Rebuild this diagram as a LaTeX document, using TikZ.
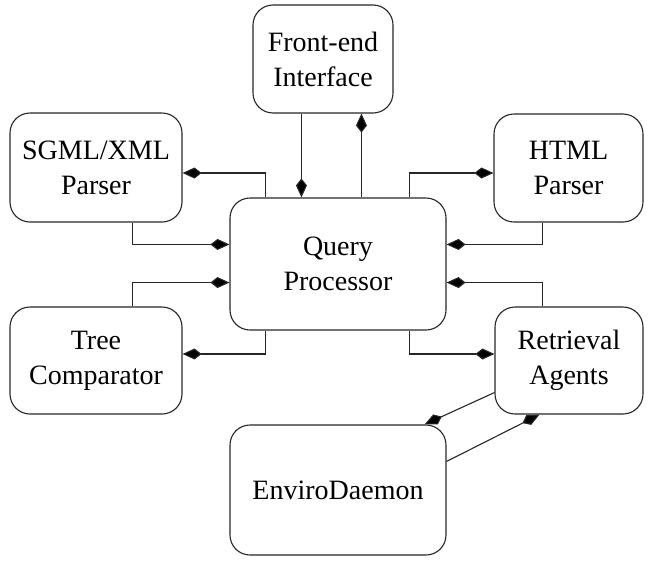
\documentclass[tikz,border=0pt]{standalone}
\usepackage{fontspec}
\setmainfont{Liberation Serif}
\usetikzlibrary{arrows.meta,calc}

\begin{document}
\begin{tikzpicture}[x=1pt,y=-1pt,
  box/.style={draw=black!85, line width=1.1pt, rounded corners=20pt,
    inner sep=0pt, align=center, font=\rmfamily\fontsize{28}{35}\selectfont},
  arr/.style={draw=black!85, line width=1.1pt,
    -{Kite[length=19pt,width=11pt,inset=7pt,fill=black]}}]
\useasboundingbox (0,0) rectangle (655,560);

% module boxes
\node[box, minimum width=140pt, minimum height=108pt] (front) at (323,59) {Front-end\\Interface};
\node[box, minimum width=172pt, minimum height=109pt] (sgml) at (96,167.5) {SGML/XML\\Parser};
\node[box, minimum width=149pt, minimum height=108pt] (html) at (568.5,168) {HTML\\Parser};
\node[box, minimum width=216pt, minimum height=132pt] (q) at (338,264) {Query\\Processor};
\node[box, minimum width=172pt, minimum height=107pt] (tree) at (96,360.5) {Tree\\Comparator};
\node[box, minimum width=148pt, minimum height=107pt] (ret) at (569,360.5) {Retrieval\\Agents};
\node[box, minimum width=216pt, minimum height=130pt] (env) at (338,490) {EnviroDaemon};

% attachment points
\coordinate (f1) at ($(front.south west)+(49,0)$);
\coordinate (q1) at ($(q.north west)+(132,0)$);
\coordinate (q2) at ($(q.north west)+(36,0)$);
\coordinate (s1) at ($(sgml.east)+(0,5.5)$);
\coordinate (s2) at ($(sgml.south west)+(123,0)$);
\coordinate (q3) at ($(q.north west)+(0,47)$);
\coordinate (q4) at ($(q.north west)+(180,0)$);
\coordinate (h1) at ($(html.west)+(0,5)$);
\coordinate (h2) at ($(html.south west)+(49,0)$);
\coordinate (q5) at ($(q.north east)+(0,47)$);
\coordinate (t1) at ($(tree.north west)+(123,0)$);
\coordinate (q6) at ($(q.south west)+(0,-48)$);
\coordinate (q7) at ($(q.south west)+(36,0)$);
\coordinate (t2) at ($(tree.east)+(0,-6.5)$);
\coordinate (r1) at ($(ret.north west)+(48,0)$);
\coordinate (q8) at ($(q.south east)+(0,-48)$);
\coordinate (q9) at ($(q.south west)+(180,0)$);
\coordinate (r2) at ($(ret.west)+(0,-6.5)$);
\coordinate (ra1) at ($(ret.south west)+(0,-22)$);
\coordinate (e1) at ($(env.north east)+(-22,0)$);
\coordinate (e2) at ($(env.north east)+(0,37)$);
\coordinate (ra2) at ($(ret.south west)+(45,0)$);

% connectors
\draw[arr] (f1) -- (f1 |- q.north);
\draw[arr] (q1) -- (q1 |- front.south);
\draw[arr] (q2) |- (s1);
\draw[arr] (s2) |- (q3);
\draw[arr] (q4) |- (h1);
\draw[arr] (h2) |- (q5);
\draw[arr] (t1) |- (q6);
\draw[arr] (q7) |- (t2);
\draw[arr] (r1) |- (q8);
\draw[arr] (q9) |- (r2);
\draw[arr] (ra1) -- (e1);
\draw[arr] (e2) -- (ra2);
\end{tikzpicture}
\end{document}
